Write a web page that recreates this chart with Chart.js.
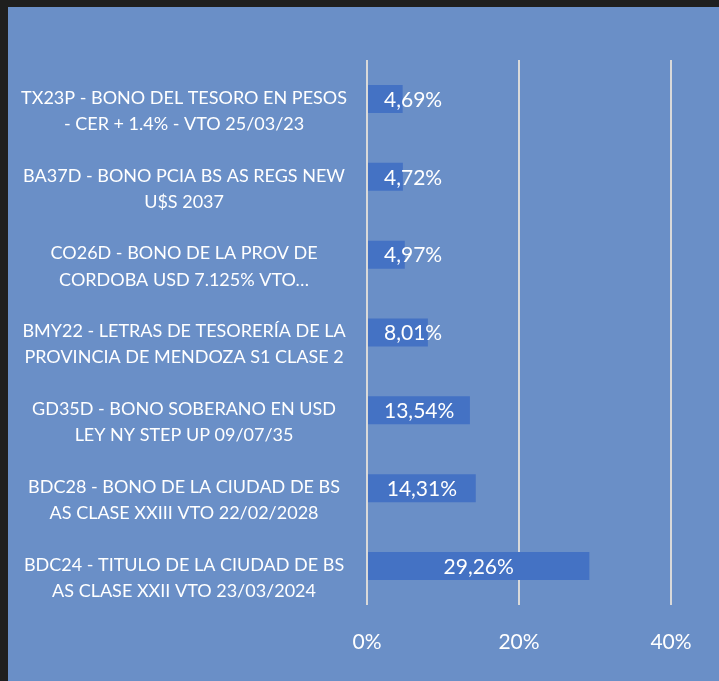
<!DOCTYPE html>
<html>
<head>
<meta charset="utf-8">
<script src="https://cdn.jsdelivr.net/npm/chart.js@4"></script>
<style>
  html, body { margin: 0; padding: 0; background: #1f1f1f; }
  #box {
    position: absolute; left: 8px; top: 7px;
    width: 711px; height: 674px;
    background: #6a8fc7;
  }
</style>
</head>
<body>
<div id="box"><canvas id="myChart"></canvas></div>
<script>
const categories = [
  ["TX23P - BONO DEL TESORO EN PESOS", "- CER + 1.4% - VTO 25/03/23"],
  ["BA37D - BONO PCIA BS AS REGS NEW", "U$S 2037"],
  ["CO26D - BONO DE LA PROV DE", "CORDOBA USD 7.125% VTO…"],
  ["BMY22 - LETRAS DE TESORERÍA DE LA", "PROVINCIA DE MENDOZA S1 CLASE 2"],
  ["GD35D - BONO SOBERANO EN USD", "LEY NY STEP UP 09/07/35"],
  ["BDC28 - BONO DE LA CIUDAD DE BS", "AS CLASE XXIII VTO 22/02/2028"],
  ["BDC24 - TITULO DE LA CIUDAD DE BS", "AS CLASE XXII VTO 23/03/2024"]
]
const shares = [4.69, 4.72, 4.97, 8.01, 13.54, 14.31, 29.26]
const xTicks = [0, 20, 40]

const FONT = 'Lato, "Open Sans", sans-serif'

// labels inside bars, pushed right when the bar is too short
const barLabels = {
  id: 'barLabels',
  afterDatasetsDraw(chart) {
    const ctx = chart.ctx
    const meta = chart.getDatasetMeta(0)
    ctx.save()
    ctx.font = '21px ' + FONT
    ctx.fillStyle = '#ffffff'
    ctx.textAlign = 'center'
    ctx.textBaseline = 'middle'
    meta.data.forEach((bar, i) => {
      const text = shares[i].toFixed(2).replace('.', ',') + '%'
      const w = ctx.measureText(text).width
      let x = (bar.x + bar.base) / 2
      x = Math.max(x, bar.base + 16 + w / 2)
      ctx.fillText(text, x, bar.y + 1)
    })
    ctx.restore()
  }
}

new Chart(document.getElementById('myChart'), {
  type: 'bar',
  data: {
    labels: categories,
    datasets: [{
      data: shares,
      backgroundColor: '#4472c4',
      borderWidth: 0,
      categoryPercentage: 1,
      barPercentage: 0.36
    }]
  },
  options: {
    indexAxis: 'y',
    responsive: true,
    maintainAspectRatio: false,
    animation: false,
    layout: { padding: { top: 53, right: 48, left: 0, bottom: 0 } },
    plugins: {
      legend: { display: false },
      tooltip: { enabled: false }
    },
    scales: {
      x: {
        min: 0,
        max: 40,
        afterBuildTicks(scale) {
          scale.ticks = xTicks.map(v => ({ value: v }))
        },
        afterFit(scale) { scale.height = 76 },
        border: { display: false },
        grid: { color: '#d9d9d9', lineWidth: 2, drawTicks: false },
        ticks: {
          color: '#ffffff',
          font: { family: FONT, size: 21 },
          padding: 25,
          callback: v => v + '%'
        }
      },
      y: {
        afterFit(scale) { scale.width = 359 },
        border: { display: false },
        grid: { display: false, drawTicks: false },
        ticks: {
          color: '#ffffff',
          crossAlign: 'center',
          font: { family: FONT, size: 18, lineHeight: 1.45 },
          labelOffset: 12,
          padding: 20
        }
      }
    }
  },
  plugins: [barLabels]
})
</script>
</body>
</html>
